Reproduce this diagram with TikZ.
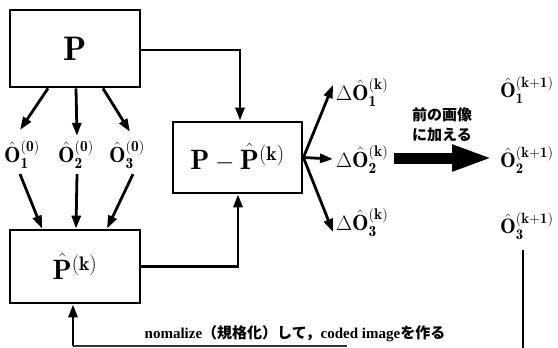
\documentclass[tikz,border=0pt]{standalone}
\usepackage{fontspec}
\usepackage{amsmath}
\usepackage{graphicx}
\newfontfamily\jp{Noto Sans CJK JP}
\newfontfamily\romb{Liberation Serif}
\usetikzlibrary{arrows.meta}
\newcommand{\Oh}{\hat{\mathbf{O}}}
\begin{document}
\begin{tikzpicture}[x=1pt,y=-1pt,
  boxed/.style={draw,line width=2.8pt,inner sep=0pt},
  arr/.style={line width=2.8pt,-{Triangle[length=13pt,width=9pt]}},
  lbl/.style={inner sep=0pt,font=\fontsize{22}{22}\selectfont},
  dlbl/.style={inner sep=0pt,anchor=west,font=\fontsize{22}{22}\selectfont},
  jtext/.style={font=\jp\bfseries\fontsize{15}{20}\selectfont,align=center,inner sep=0pt}]
\useasboundingbox (0,0) rectangle (558,348);
% boxes
\node[boxed,minimum width=130pt,minimum height=77pt,font=\fontsize{34}{34}\selectfont] (P) at (75,48.5) {$\mathbf{P}$};
\node[boxed,minimum width=129pt,minimum height=71pt,font=\fontsize{28}{28}\selectfont] (D) at (237.5,157.5) {$\mathbf{P}-\hat{\mathbf{P}}^{(\mathbf{k})}$};
\node[boxed,minimum width=130pt,minimum height=73pt,font=\fontsize{28}{28}\selectfont] (K) at (75,266.5) {$\hat{\mathbf{P}}^{(\mathbf{k})}$};
% O^(0) labels
\node[lbl] (o1) at (22,155) {$\Oh^{(\mathbf{0})}_{\mathbf{1}}$};
\node[lbl] (o2) at (76,155) {$\Oh^{(\mathbf{0})}_{\mathbf{2}}$};
\node[lbl] (o3) at (127,155) {$\Oh^{(\mathbf{0})}_{\mathbf{3}}$};
% arrows P -> O
\draw[arr] ([xshift=-27pt]P.south) -- ([xshift=-2pt,yshift=11pt]o1.north);
\draw[arr] ([xshift=1pt]P.south) -- ([xshift=1pt,yshift=5pt]o2.north);
\draw[arr] ([xshift=28pt]P.south) -- ([xshift=3pt,yshift=9pt]o3.north);
% arrows O -> K
\draw[arr] ([xshift=-2pt,yshift=-5pt]o1.south) -- ([xshift=-33pt]K.north);
\draw[arr] ([xshift=1pt,yshift=-5pt]o2.south) -- ([xshift=1pt]K.north);
\draw[arr] ([xshift=6pt,yshift=-5pt]o3.south) -- ([xshift=32pt]K.north);
% P -> D and K -> D
\draw[arr] ([yshift=-1.5pt]P.east) -| ([xshift=2.5pt]D.north);
\draw[arr] (K.east) -| ([xshift=0.5pt]D.south);
% Delta labels
\node[dlbl] (d1) at (336,93) {$\Delta\Oh^{(\mathbf{k})}_{\mathbf{1}}$};
\node[dlbl] (d2) at (336,160) {$\Delta\Oh^{(\mathbf{k})}_{\mathbf{2}}$};
\node[dlbl] (d3) at (336,223) {$\Delta\Oh^{(\mathbf{k})}_{\mathbf{3}}$};
\coordinate (fan) at (D.east);
\draw[arr] (fan) -- ([xshift=-3pt,yshift=8pt]d1.west);
\draw[arr] (fan) -- ([xshift=-3pt,yshift=1pt]d2.west);
\draw[arr] (fan) -- ([xshift=-3pt,yshift=-9pt]d3.west);
% k+1 labels
\node[dlbl,font=\fontsize{21}{21}\selectfont] (n1) at (500,90) {$\Oh^{(\mathbf{k+1})}_{\mathbf{1}}$};
\node[dlbl,font=\fontsize{21}{21}\selectfont] (n2) at (500,160) {$\Oh^{(\mathbf{k+1})}_{\mathbf{2}}$};
\node[dlbl,font=\fontsize{21}{21}\selectfont] (n3) at (500,226) {$\Oh^{(\mathbf{k+1})}_{\mathbf{3}}$};
% big arrow
\draw[line width=11pt,-{Triangle[length=41pt,width=24pt]}] ([xshift=5pt,yshift=2pt]d2.east) -- ([xshift=-7pt,yshift=2pt]n2.west);
\node[jtext] (add) at (442,125) {前の画像\\に加える};
% feedback
\coordinate (b) at (73,346);
\coordinate (bend) at (347,346);
\draw[arr] (b) -- ([xshift=-2pt]K.south);
\draw[line width=1.2pt,black!80] (b) -- (bend);
\node[jtext] (note) at (295,334) {{\romb\bfseries nomalize}（規格化）して，{\romb\bfseries coded image}を作る};
\coordinate (v1) at (523,250);
\coordinate (v2) at (523,348);
\draw[line width=2.8pt] (v1) -- (v2);
\end{tikzpicture}
\end{document}
